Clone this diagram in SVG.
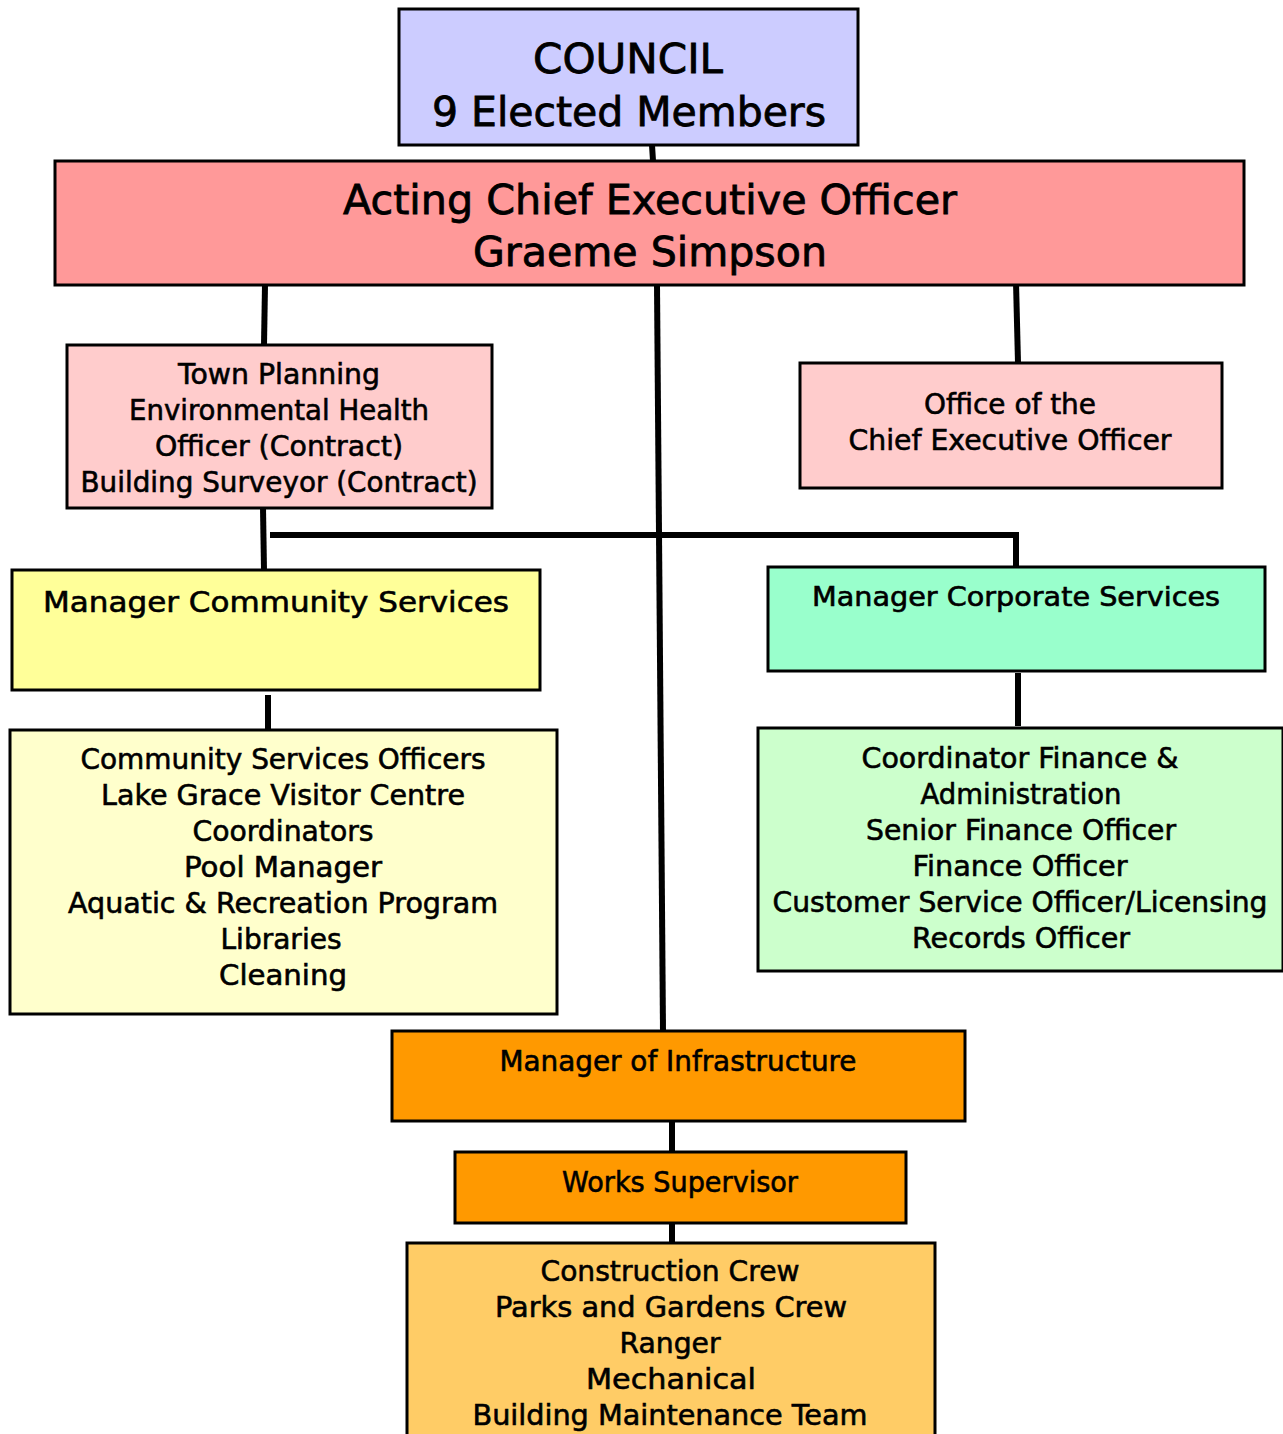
<svg xmlns="http://www.w3.org/2000/svg" width="1283" height="1434" viewBox="0 0 1283 1434">
<style>
.box{stroke:#000;stroke-width:3}
text{font-family:"DejaVu Sans","Liberation Sans",sans-serif;fill:#000;stroke:#000;stroke-width:0.6;text-anchor:middle}
.t28{font-size:28px}
.t26{font-size:26px}
.big{font-size:41px;stroke-width:0.8}
.conn{stroke:#000;stroke-width:6;fill:none}
</style>
<rect width="1283" height="1434" fill="#fff"/>
<g id="connectors">
<path class="conn" d="M652 145 L653 161"/>
<path class="conn" d="M265 285 L264 345"/>
<path class="conn" d="M1016 282 L1018 363"/>
<path class="conn" d="M657 285 L663 1031"/>
<path class="conn" d="M263 508 L264 570"/>
<path class="conn" d="M270 535 H1016 V567"/>
<path class="conn" d="M268 695 V730"/>
<path class="conn" d="M1018 673 V726"/>
<path class="conn" d="M672 1121 V1152"/>
<path class="conn" d="M672 1223 V1243"/>
</g>
<g id="council">
<rect class="box" x="399" y="9" width="459" height="136" fill="#CCCCFF"/>
<text class="big" x="628" y="73" textLength="190" lengthAdjust="spacingAndGlyphs">COUNCIL</text>
<text class="big" x="629" y="126" textLength="394" lengthAdjust="spacingAndGlyphs">9 Elected Members</text>
</g>
<g id="ceo">
<rect class="box" x="55" y="161" width="1189" height="124" fill="#FF9999"/>
<text class="big" x="650" y="214" textLength="614" lengthAdjust="spacingAndGlyphs">Acting Chief Executive Officer</text>
<text class="big" x="650" y="266" textLength="354" lengthAdjust="spacingAndGlyphs">Graeme Simpson</text>
</g>
<g id="town-planning">
<rect class="box" x="67" y="345" width="425" height="163" fill="#FFCCCC"/>
<text class="t28" x="279" y="384" textLength="202" lengthAdjust="spacingAndGlyphs">Town Planning</text>
<text class="t28" x="279" y="420" textLength="300" lengthAdjust="spacingAndGlyphs">Environmental Health</text>
<text class="t28" x="279" y="456" textLength="248" lengthAdjust="spacingAndGlyphs">Officer (Contract)</text>
<text class="t28" x="279" y="492" textLength="397" lengthAdjust="spacingAndGlyphs">Building Surveyor (Contract)</text>
</g>
<g id="office-ceo">
<rect class="box" x="800" y="363" width="422" height="125" fill="#FFCCCC"/>
<text class="t28" x="1010" y="414" textLength="172" lengthAdjust="spacingAndGlyphs">Office of the</text>
<text class="t28" x="1010" y="450" textLength="323" lengthAdjust="spacingAndGlyphs">Chief Executive Officer</text>
</g>
<g id="manager-community">
<rect class="box" x="12" y="570" width="528" height="120" fill="#FFFF99"/>
<text class="t28" x="276" y="612" textLength="466" lengthAdjust="spacingAndGlyphs">Manager Community Services</text>
</g>
<g id="manager-corporate">
<rect class="box" x="768" y="567" width="497" height="104" fill="#99FFCC"/>
<text class="t26" x="1016" y="606" textLength="408" lengthAdjust="spacingAndGlyphs">Manager Corporate Services</text>
</g>
<g id="community-staff">
<rect class="box" x="10" y="730" width="547" height="284" fill="#FFFFCC"/>
<text class="t28" x="283" y="769" textLength="405" lengthAdjust="spacingAndGlyphs">Community Services Officers</text>
<text class="t28" x="283" y="805" textLength="364" lengthAdjust="spacingAndGlyphs">Lake Grace Visitor Centre</text>
<text class="t28" x="283" y="841" textLength="181" lengthAdjust="spacingAndGlyphs">Coordinators</text>
<text class="t28" x="283" y="877" textLength="198" lengthAdjust="spacingAndGlyphs">Pool Manager</text>
<text class="t28" x="283" y="913" textLength="430" lengthAdjust="spacingAndGlyphs">Aquatic &amp; Recreation Program</text>
<text class="t28" x="281" y="949" textLength="121" lengthAdjust="spacingAndGlyphs">Libraries</text>
<text class="t28" x="283" y="985" textLength="128" lengthAdjust="spacingAndGlyphs">Cleaning</text>
</g>
<g id="corporate-staff">
<rect class="box" x="758" y="728" width="525" height="243" fill="#CCFFCC"/>
<text class="t28" x="1020" y="768" textLength="317" lengthAdjust="spacingAndGlyphs">Coordinator Finance &amp;</text>
<text class="t28" x="1021" y="804" textLength="201" lengthAdjust="spacingAndGlyphs">Administration</text>
<text class="t28" x="1021" y="840" textLength="310" lengthAdjust="spacingAndGlyphs">Senior Finance Officer</text>
<text class="t28" x="1020" y="876" textLength="215" lengthAdjust="spacingAndGlyphs">Finance Officer</text>
<text class="t28" x="1020" y="912" textLength="495" lengthAdjust="spacingAndGlyphs">Customer Service Officer/Licensing</text>
<text class="t28" x="1021" y="948" textLength="218" lengthAdjust="spacingAndGlyphs">Records Officer</text>
</g>
<g id="manager-infrastructure">
<rect class="box" x="392" y="1031" width="573" height="90" fill="#FF9900"/>
<text class="t28" x="678" y="1071" textLength="357" lengthAdjust="spacingAndGlyphs">Manager of Infrastructure</text>
</g>
<g id="works-supervisor">
<rect class="box" x="455" y="1152" width="451" height="71" fill="#FF9900"/>
<text class="t28" x="680" y="1192" textLength="236" lengthAdjust="spacingAndGlyphs">Works Supervisor</text>
</g>
<g id="crews">
<rect class="box" x="407" y="1243" width="528" height="200" fill="#FFCC66"/>
<text class="t28" x="670" y="1281" textLength="259" lengthAdjust="spacingAndGlyphs">Construction Crew</text>
<text class="t28" x="671" y="1317" textLength="352" lengthAdjust="spacingAndGlyphs">Parks and Gardens Crew</text>
<text class="t28" x="670" y="1353" textLength="101" lengthAdjust="spacingAndGlyphs">Ranger</text>
<text class="t28" x="671" y="1389" textLength="170" lengthAdjust="spacingAndGlyphs">Mechanical</text>
<text class="t28" x="670" y="1425" textLength="395" lengthAdjust="spacingAndGlyphs">Building Maintenance Team</text>
</g>
</svg>
